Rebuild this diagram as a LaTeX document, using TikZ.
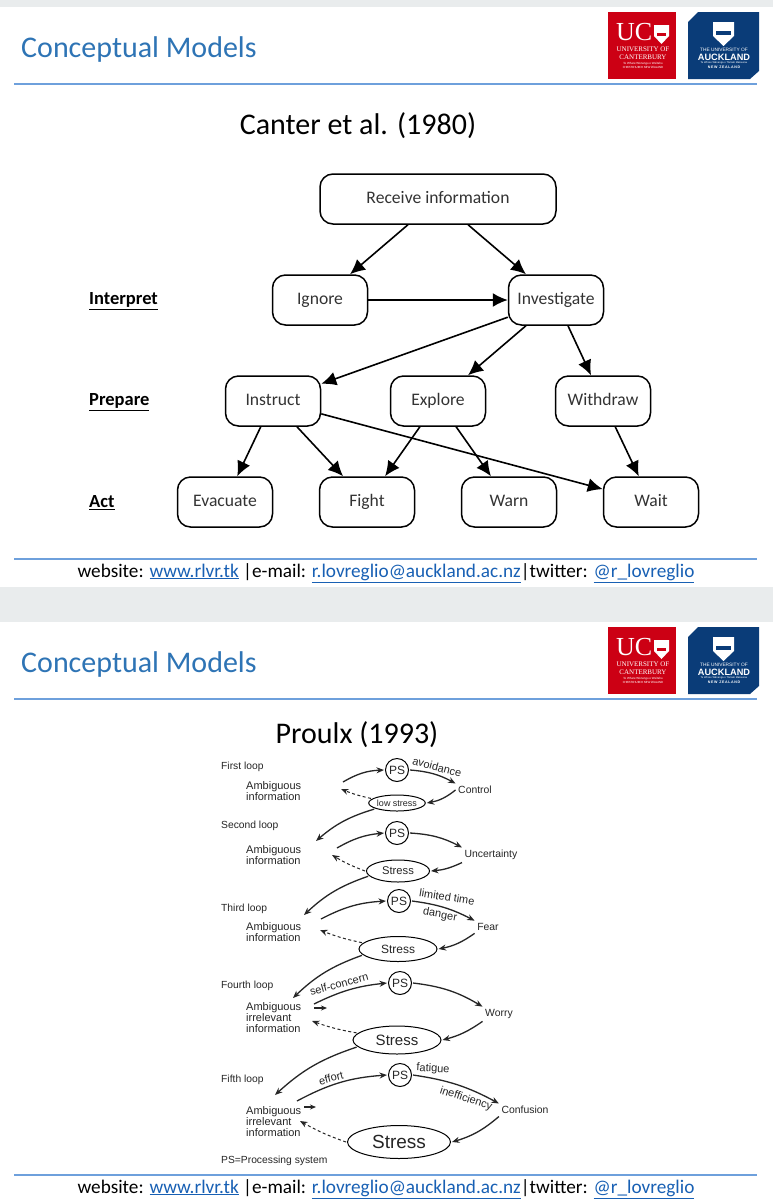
\documentclass[tikz,border=0pt]{standalone}
\usepackage{fontspec}
\setmainfont{Carlito}
\newfontfamily\arialf{Liberation Sans}
\newfontfamily\serifl{Liberation Serif}
\usetikzlibrary{arrows.meta,shapes.geometric}
\definecolor{band}{RGB}{233,236,237}
\definecolor{rulec}{RGB}{110,160,220}
\definecolor{titlec}{RGB}{46,116,181}
\definecolor{linkc}{RGB}{24,96,180}
\definecolor{ucred}{RGB}{204,0,20}
\definecolor{akblue}{RGB}{10,60,120}
\newcommand{\fs}[1]{\fontsize{#1}{#1}\selectfont}
\newcommand{\lnk}[1]{\textcolor{linkc}{\underline{#1}}}
\tikzset{
  x=1pt,y=-1pt,
  rulestyle/.style={draw=rulec,line width=1.5pt},
  boxn/.style={draw=black,line width=1.5pt,rounded corners=13pt,minimum height=50pt,minimum width=95pt,inner sep=0pt,font=\fs{17.6},text=black!80,text height=11pt,text depth=3pt},
  boxarrow/.style={-{Latex[length=15pt,width=14pt]},line width=1.6pt},
  side/.style={font=\bfseries\fs{18.5},anchor=west,inner sep=0pt},
  ptxt/.style={font=\arialf\fs{11},inner sep=0pt,text=black!85},
  amb/.style={ptxt,align=left,anchor=west},
  tgt/.style={ptxt,font=\arialf\fs{10.4},inner sep=2.5pt},
  pscirc/.style={circle,draw=black,line width=1pt,minimum size=23pt,inner sep=0pt,outer sep=1.5pt,font=\arialf\fs{12},text=black!85},
  stressn/.style={ellipse,draw=black,line width=1pt,inner sep=0pt,outer sep=1.5pt,text=black!85},
  flow/.style={-{Stealth[length=7.5pt,width=6pt]},line width=1.3pt,black!85},
  flowd/.style={flow,dashed,dash pattern=on 3pt off 2.5pt,line width=1pt},
  small/.style={-{Stealth[length=6pt,width=5pt]},line width=1.3pt,black!85},
  slidehead/.pic={
    \path[rulestyle] (14,84) -- (757,84);
    \node[anchor=west,inner sep=0pt,text=titlec,font=\fs{30}] (title) at (21,49.5) {Conceptual Models};
    \fill[ucred] (608,12) rectangle (676,79);
    \node[text=white,font=\serifl\fs{26},inner sep=0pt,anchor=west] (uc) at (616,32.5) {UC};
    \fill[white] (654,25) -- (669,25) -- (669,36) -- (661.5,44) -- (654,36) -- cycle;
    \fill[ucred] (657,33) rectangle (666,36);
    \node[text=white,font=\serifl\fs{7},inner sep=0pt,align=center] (ucn) at (643,53) {UNIVERSITY OF\\[1.5pt]CANTERBURY};
    \node[text=white,font=\fs{3.2},inner sep=0pt,align=center] (ucm) at (643,65.5) {Te Whare Wānanga o Waitaha\\[.5pt]CHRISTCHURCH NEW ZEALAND};
    \fill[akblue] (698,12) -- (759,12) -- (759,71) -- (750,79) -- (688,79) -- (688,22) -- cycle;
    \fill[white] (713,22) -- (734,22) -- (734,36) -- (723.5,46) -- (713,36) -- cycle;
    \fill[akblue] (716,31) rectangle (731,35);
    \node[text=white,font=\arialf\fs{4.8},inner sep=0pt] (ak1) at (724,49.5) {THE UNIVERSITY OF};
    \node[text=white,font=\arialf\bfseries\fs{9.2},inner sep=0pt] (ak2) at (724,57) {AUCKLAND};
    \node[text=white,font=\arialf\fs{2.6},inner sep=0pt] (ak3) at (724,62.5) {Te Whare Wānanga o Tāmaki Makaurau};
    \node[text=white,font=\arialf\bfseries\fs{3.6},inner sep=0pt] (ak4) at (724,67) {N\,E\,W\ \ Z\,E\,A\,L\,A\,N\,D};
  },
  slidefoot/.pic={
    \path[rulestyle] (14,559) -- (757,559);
    \node[inner sep=0pt,font=\fs{19.25},text=black,anchor=base] (foot) at (386,577) {website: \lnk{www.rlvr.tk} |e-mail: \lnk{r.lovreglio@auckland.ac.nz}|twitter: \lnk{@r\_lovreglio}};
  }
}
\begin{document}
\begin{tikzpicture}
\useasboundingbox (0,0) rectangle (773,1200);
\fill[white] (0,0) rectangle (773,1200);
\fill[band] (0,0) rectangle (773,7);
\fill[band] (0,587) rectangle (773,622);
\pic (h1) at (0,0) {slidehead};
\pic (h2) at (0,615) {slidehead};
\pic (f1) at (0,0) {slidefoot};
\pic (f2) at (0,616) {slidefoot};
\node[font=\fs{30},inner sep=0pt] (t1) at (358,126) {Canter et al. (1980)};
\node[font=\fs{30},inner sep=0pt] (t2) at (357,735) {Proulx (1993)};
% Canter
\node[boxn,minimum width=236pt] (recv) at (438,199) {Receive information};
\node[boxn] (ign) at (320,300) {Ignore};
\node[boxn] (inv) at (556,300) {Investigate};
\node[boxn] (ins) at (273,401) {Instruct};
\node[boxn] (exp) at (438,401) {Explore};
\node[boxn] (wdr) at (603,401) {Withdraw};
\node[boxn] (eva) at (225,502) {Evacuate};
\node[boxn] (fig) at (367,502) {Fight};
\node[boxn] (war) at (509,502) {Warn};
\node[boxn] (wai) at (651,502) {Wait};
\node[side] (l1) at (89,301) {\underline{Interpret}};
\node[side] (l2) at (89,402) {\underline{Prepare}};
\node[side] (l3) at (89,503) {\underline{Act}};
\foreach \a/\b in {recv/ign,recv/inv,ign/inv,inv/ins,inv/exp,inv/wdr,ins/eva,ins/fig,exp/fig,exp/war,wdr/wai,ins/wai}
  \draw[boxarrow] (\a) -- (\b);
% Proulx labels
\foreach \n/\y/\t in {a/767/First loop,b/826/Second loop,c/909/Third loop,d/986/Fourth loop,e/1080/Fifth loop,f/1161/PS=Processing system}
  \node[ptxt,font=\arialf\fs{10.3},anchor=west] (lab\n) at (221,\y) {\t};
\node[amb] (amb1) at (246,791) {Ambiguous\\information};
\node[amb] (amb2) at (246,855.5) {Ambiguous\\information};
\node[amb] (amb3) at (246,932) {Ambiguous\\information};
\node[amb] (amb4) at (246,1018) {Ambiguous\\irrelevant\\information};
\node[amb] (amb5) at (246,1122) {Ambiguous\\irrelevant\\information};
\node[pscirc] (ps1) at (397,770) {PS};
\node[pscirc] (ps2) at (397,833) {PS};
\node[pscirc] (ps3) at (399,901) {PS};
\node[pscirc] (ps4) at (400,983) {PS};
\node[pscirc] (ps5) at (400,1075) {PS};
\node[tgt] (o1) at (475,790) {Control};
\node[tgt] (o2) at (491,855) {Uncertainty};
\node[tgt] (o3) at (488,927) {Fear};
\node[tgt] (o4) at (499,1014) {Worry};
\node[tgt] (o5) at (525,1110) {Confusion};
\node[stressn,minimum width=54pt,minimum height=16pt,font=\arialf\fs{9}] (s1) at (397,803) {low stress};
\node[stressn,minimum width=63pt,minimum height=22pt,font=\arialf\fs{11.2}] (s2) at (398,871) {Stress};
\node[stressn,minimum width=78pt,minimum height=25pt,font=\arialf\fs{12}] (s3) at (398,949) {Stress};
\node[stressn,minimum width=88pt,minimum height=28pt,font=\arialf\fs{15}] (s4) at (397,1040) {Stress};
\node[stressn,minimum width=103pt,minimum height=33pt,font=\arialf\fs{19}] (s5) at (399,1142) {Stress};
% free ends
\coordinate (a1o) at (343,782); \coordinate (a1i) at (341,789);
\coordinate (a2o) at (337,848); \coordinate (a2i) at (332,855); \coordinate (a2t) at (316,841);
\coordinate (a3o) at (321,919); \coordinate (a3i) at (320,930); \coordinate (a3t) at (304,915);
\coordinate (a4o) at (314,1004); \coordinate (a4i) at (312,1021); \coordinate (a4t) at (293,998);
\coordinate (a5o) at (297,1101); \coordinate (a5i) at (300,1121); \coordinate (a5t) at (275,1095);
\coordinate (m4a) at (314,1008); \coordinate (m4b) at (327,1008);
\coordinate (m5a) at (304,1107); \coordinate (m5b) at (316,1107);
% loops
\draw[flow] (a1o) to[bend left=14] (ps1.west);
\draw[flow] (ps1.east) to[bend left=12] (o1.north west);
\draw[flow] (o1.west) to[bend left=14] (s1.east);
\draw[flowd] (s1.170) to[bend left=5] (a1i);
\draw[flow] (s1.195) to[bend right=12] (a2t);
\draw[flow] (a2o) to[bend left=12] (ps2.west);
\draw[flow] (ps2.east) to[bend left=12] (o2.north west);
\draw[flow] (o2.south west) to[bend left=10] (s2.east);
\draw[flowd] (s2.west) to[bend left=5] (a2i);
\draw[flow] (s2.190) to[bend right=12] (a3t);
\draw[flow] (a3o) to[bend left=12] (ps3.west);
\draw[flow] (ps3.east) to[bend left=10] (o3.north west);
\draw[flow] (o3.south west) to[bend left=12] (s3.east);
\draw[flowd] (s3.170) to[bend left=5] (a3i);
\draw[flow] (s3.190) to[bend right=12] (a4t);
\draw[flow] (a4o) to[bend left=10] (ps4.west);
\draw[flow] (ps4.east) to[bend left=12] (o4.north west);
\draw[flow] (o4.south west) to[bend left=10] (s4.east);
\draw[flowd] (s4.170) to[bend left=5] (a4i);
\draw[flow] (s4.190) to[bend right=12] (a5t);
\draw[flow] (a5o) to[bend left=12] (ps5.west);
\draw[flow] (ps5.east) to[bend left=10] (o5.north west);
\draw[flow] (o5.south west) to[bend left=12] (s5.east);
\draw[flowd] (s5.west) to[bend left=5] (a5i);
\draw[small] (m4a) -- (m4b);
\draw[small] (m5a) -- (m5b);
% edge words
\node[ptxt,rotate=-15] (w1) at (437,767) {avoidance};
\node[ptxt,rotate=-9] (w2) at (447,897) {limited time};
\node[ptxt,rotate=-10] (w3) at (440,915) {danger};
\node[ptxt,rotate=15] (w4) at (339,984) {self-concern};
\node[ptxt,rotate=15] (w5) at (331,1078) {effort};
\node[ptxt,rotate=-3] (w6) at (433,1069) {fatigue};
\node[ptxt,rotate=-18] (w7) at (466,1099) {inefficiency};
\end{tikzpicture}
\end{document}
